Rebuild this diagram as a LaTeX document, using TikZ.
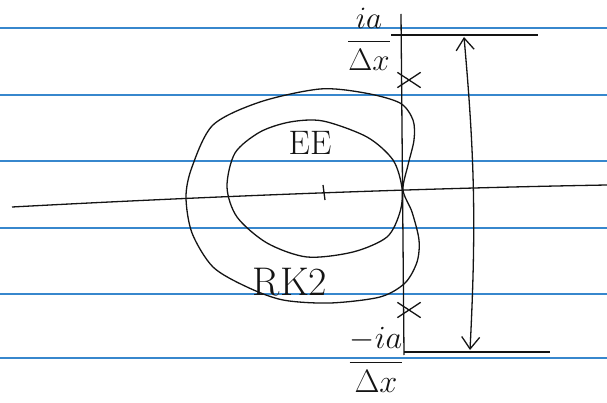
\documentclass[tikz,border=0pt]{standalone}
\usepackage{amsmath}
\usetikzlibrary{arrows.meta, shapes.misc}
\definecolor{ruleblue}{RGB}{55,135,205}
\definecolor{inkblack}{RGB}{20,20,20}

\begin{document}
\begin{tikzpicture}[
    x = 1pt, y = -1pt,
    rule/.style={
      draw = ruleblue,
      line width = 1.2pt,
    },
    pen/.style={
      draw = inkblack,
      line width = 1.3pt,
    },
    pole/.style={
      cross out,
      draw = inkblack,
      line width = 1.3pt,
      minimum width = 22pt,
      minimum height = 14pt,
      inner sep = 0pt,
    },
    lbl/.style={
      text = inkblack,
      inner sep = 0pt,
    },
    barb/.tip={Straight Barb[length=12pt, width=18pt]},
  ]
  \useasboundingbox (0,0) rectangle (607,403);
  \foreach \y in {28,95,161,228,294,358}
    \draw[rule] (0,\y) -- (607,\y);

  \coordinate (relft) at (12,207);
  \coordinate (rergt) at (607,185);
  \coordinate (imtop) at (401,14);
  \coordinate (imbot) at (404,355);
  \coordinate (hiend) at (538,35);
  \coordinate (loend) at (550,352);
  \coordinate (arrtop) at (464,37);
  \coordinate (arrbot) at (470,350);

  \draw[pen] (relft) .. controls (160,199) and (380,189) .. (rergt);
  \draw[pen] (imtop) -- (imbot);
  \draw[pen] (323,185) -- (325,200);

  % stability regions
  \draw[pen] plot[smooth cycle] coordinates {
    (323,121) (367,137) (393,160) (402,188) (400,212) (387,237) (353,252)
    (307,257) (267,243) (237,217) (227,187) (235,153) (260,132) (290,122)};
  \draw[pen] plot[smooth cycle] coordinates {
    (320,89) (365,93) (400,103) (413,120) (414,140) (408,165) (403,190)
    (412,212) (419,240) (417,262) (405,283) (380,297) (330,303) (283,300)
    (247,287) (213,267) (192,233) (186,197) (192,167) (213,125) (260,102)};

  \node[lbl, font=\fontsize{34}{38}\selectfont] (ee) at (310,143) {EE};
  \node[lbl, font=\fontsize{40}{44}\selectfont] (rk) at (290,282) {RK2};

  \node[pole] (phi) at (409,80) {};
  \node[pole] (plo) at (409,310) {};

  \node[lbl, font=\fontsize{24}{28}\selectfont, scale=1.25] (imhi) at (369,39) {$\dfrac{ia}{\Delta x}$};
  \node[lbl, font=\fontsize{24}{28}\selectfont, scale=1.3] (imlo) at (376,360) {$\dfrac{-ia}{\Delta x}$};
  \draw[pen] (imhi.east |- hiend) -- (hiend);
  \draw[pen] (imlo.east |- loend) -- (loend);
  \draw[pen, barb-barb] (arrtop) to[bend left=4] (arrbot);
\end{tikzpicture}
\end{document}
